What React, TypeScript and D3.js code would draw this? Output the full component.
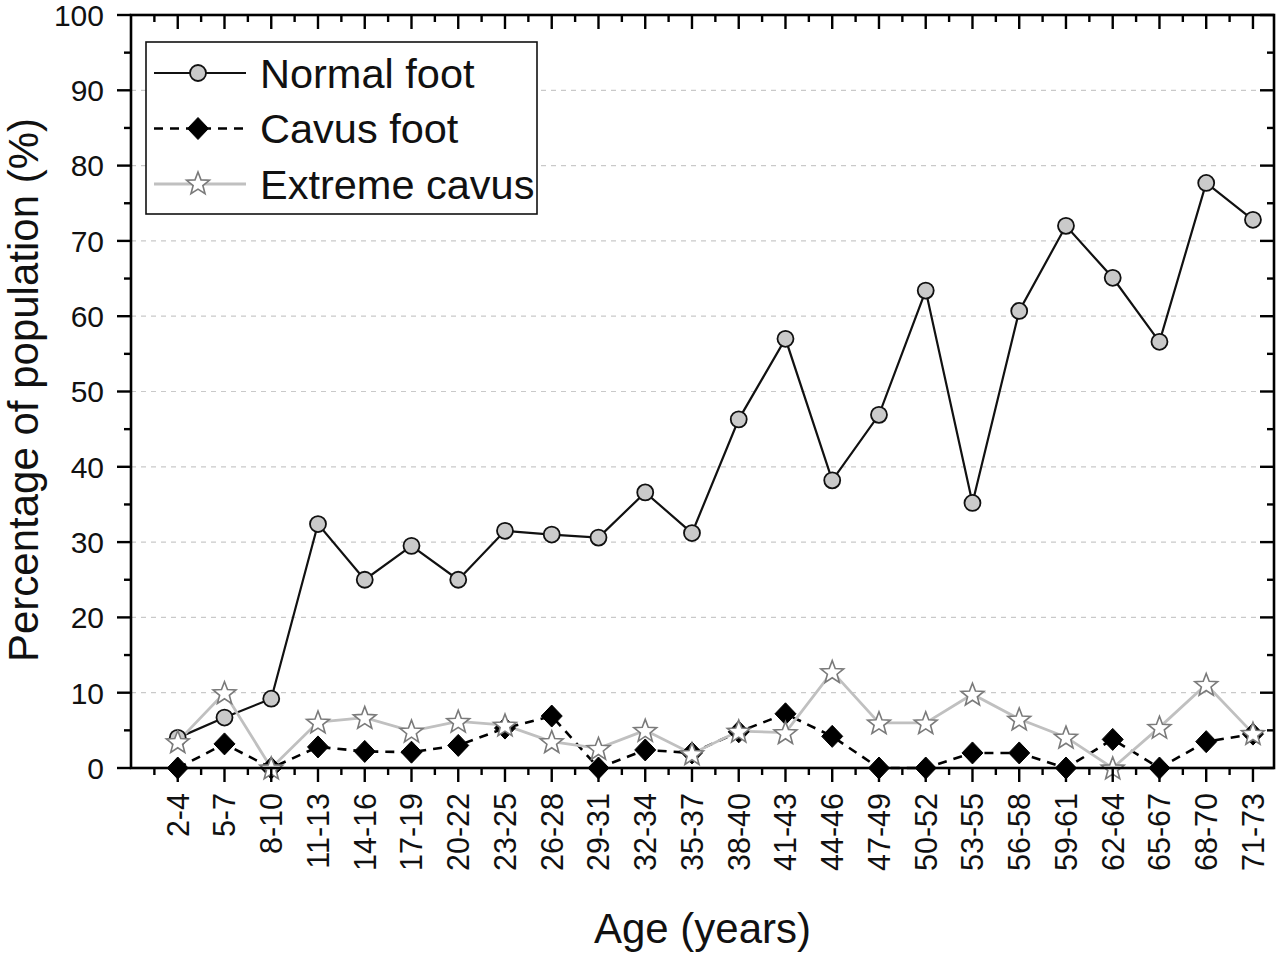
import React from "react";
import * as d3 from "d3";

const categories = [
  "2-4", "5-7", "8-10", "11-13", "14-16", "17-19", "20-22", "23-25", "26-28",
  "29-31", "32-34", "35-37", "38-40", "41-43", "44-46", "47-49", "50-52",
  "53-55", "56-58", "59-61", "62-64", "65-67", "68-70", "71-73",
];
const normalFoot = [
  4.0, 6.7, 9.2, 32.4, 25.0, 29.5, 25.0, 31.5, 31.0, 30.6, 36.6, 31.2, 46.3,
  57.0, 38.2, 46.9, 63.4, 35.2, 60.7, 72.0, 65.1, 56.6, 77.7, 72.8,
];
const cavusFoot = [
  0, 3.2, 0, 2.8, 2.2, 2.1, 3.0, 5.3, 6.9, 0, 2.4, 2.0, 4.8, 7.2, 4.2, 0, 0,
  2.0, 2.0, 0, 3.8, 0, 3.5, 4.5,
];
const extremeCavus = [
  3.5, 10.0, 0, 6.1, 6.7, 4.9, 6.2, 5.7, 3.5, 2.6, 5.0, 1.9, 4.9, 4.7, 12.8,
  6.0, 6.0, 9.8, 6.5, 4.1, 0, 5.4, 11.1, 4.6,
];
const yTicks = [0, 10, 20, 30, 40, 50, 60, 70, 80, 90, 100];
const gridValues = [10, 20, 30, 40, 50, 60, 70, 80, 90];
const legendLabels = ["Normal foot", "Cavus foot", "Extreme cavus"];
const xTitle = "Age (years)";
const yTitle = "Percentage of population (%)";

const W = 1279;
const H = 955;
const FONT = "'Liberation Sans', Arial, Helvetica, sans-serif";

const x = d3.scaleLinear().domain([-1, 23.45]).range([131, 1274]);
const y = d3.scaleLinear().domain([0, 100]).range([768, 15]);

function starPath(cx: number, cy: number, R: number, r: number) {
  const pts: string[] = [];
  for (let i = 0; i < 10; i++) {
    const rad = i % 2 === 0 ? R : r;
    const a = -Math.PI / 2 + (i * Math.PI) / 5;
    pts.push(`${cx + rad * Math.cos(a)},${cy + rad * Math.sin(a)}`);
  }
  return "M" + pts.join("L") + "Z";
}
function diamondPath(cx: number, cy: number, hw: number, hh: number) {
  return `M${cx},${cy - hh}L${cx + hw},${cy}L${cx},${cy + hh}L${cx - hw},${cy}Z`;
}

const Circle = ({ cx, cy }: { cx: number; cy: number }) => (
  <circle cx={cx} cy={cy} r={8} fill="#cacaca" stroke="#111" strokeWidth={1.8} />
);
const Diamond = ({ cx, cy }: { cx: number; cy: number }) => (
  <path d={diamondPath(cx, cy, 10.5, 11)} fill="#000" stroke="#000" strokeWidth={1} />
);
const Star = ({ cx, cy }: { cx: number; cy: number }) => (
  <path d={starPath(cx, cy + 1, 12, 5.1)} fill="#fff" stroke="#7a7a7a" strokeWidth={1.6} strokeLinejoin="miter" />
);

export default function App() {
  const idx = categories.map((_, i) => i);
  const line = d3
    .line<number>()
    .x((_, i) => x(i))
    .y((d) => y(d));

  const majorX = idx;
  const minorX = d3.range(-0.5, 23.45, 1);
  const minorY = d3.range(5, 100, 10);
  const left = x(-1);
  const right = x(23.45);
  const top = y(100);
  const bottom = y(0);
  const tl = 14;
  const ts = 7;

  const legendX = 146;
  const legendY = 42;
  const legendW = 391;
  const legendH = 172;
  const rowY = [73, 128.5, 184];
  const lx1 = 154;
  const lx2 = 246;
  const lmx = 198;

  return (
    <svg
      width={W}
      height={H}
      style={{ position: "absolute", left: 0, top: 0, background: "#fff" }}
      fontFamily={FONT}
    >
      <rect x={0} y={0} width={W} height={H} fill="#fff" />
      {/* grid */}
      {gridValues.map((v) => (
        <line
          key={"g" + v}
          x1={left}
          x2={right}
          y1={y(v)}
          y2={y(v)}
          stroke="#c9c9c9"
          strokeWidth={1.2}
          strokeDasharray="5,5"
        />
      ))}

      {/* lines */}
      <path d={line(normalFoot) || ""} fill="none" stroke="#111" strokeWidth={2.2} />
      <path
        d={line(cavusFoot) || ""}
        fill="none"
        stroke="#000"
        strokeWidth={2.6}
        strokeDasharray="9,7"
      />
      <path d={line(extremeCavus) || ""} fill="none" stroke="#c0c0c0" strokeWidth={2.8} />

      {/* markers */}
      {normalFoot.map((v, i) => (
        <Circle key={"c" + i} cx={x(i)} cy={y(v)} />
      ))}
      {cavusFoot.map((v, i) => (
        <Diamond key={"d" + i} cx={x(i)} cy={y(v)} />
      ))}
      {extremeCavus.map((v, i) => (
        <Star key={"s" + i} cx={x(i)} cy={y(v)} />
      ))}

      {/* frame */}
      <rect
        x={left}
        y={top}
        width={right - left}
        height={bottom - top}
        fill="none"
        stroke="#000"
        strokeWidth={2.6}
      />

      {/* x ticks */}
      {majorX.map((i) => (
        <g key={"xt" + i}>
          <line x1={x(i)} x2={x(i)} y1={bottom} y2={bottom + tl} stroke="#000" strokeWidth={2.4} />
          <line x1={x(i)} x2={x(i)} y1={top} y2={top + tl} stroke="#000" strokeWidth={2.4} />
        </g>
      ))}
      {minorX.map((i) => (
        <g key={"xm" + i}>
          <line x1={x(i)} x2={x(i)} y1={bottom} y2={bottom + ts} stroke="#000" strokeWidth={2.4} />
          <line x1={x(i)} x2={x(i)} y1={top} y2={top + ts} stroke="#000" strokeWidth={2.4} />
        </g>
      ))}
      {/* y ticks */}
      {yTicks.map((v) => (
        <g key={"yt" + v}>
          <line x1={left - tl} x2={left} y1={y(v)} y2={y(v)} stroke="#000" strokeWidth={2.4} />
          <line x1={right - tl} x2={right} y1={y(v)} y2={y(v)} stroke="#000" strokeWidth={2.4} />
        </g>
      ))}
      {minorY.map((v) => (
        <g key={"ym" + v}>
          <line x1={left - ts} x2={left} y1={y(v)} y2={y(v)} stroke="#000" strokeWidth={2.4} />
          <line x1={right - ts} x2={right} y1={y(v)} y2={y(v)} stroke="#000" strokeWidth={2.4} />
        </g>
      ))}

      {/* y tick labels */}
      {yTicks.map((v) => (
        <text
          key={"yl" + v}
          x={left - 27}
          y={y(v)}
          dy="0.36em"
          textAnchor="end"
          fontSize={30}
          fill="#111"
        >
          {v}
        </text>
      ))}
      {/* x tick labels */}
      {categories.map((c, i) => (
        <text
          key={"xl" + i}
          transform={`translate(${x(i)},${bottom + 25}) rotate(-90)`}
          dy="0.36em"
          textAnchor="end"
          fontSize={30.5}
          fill="#111"
        >
          {c}
        </text>
      ))}

      {/* axis titles */}
      <text x={(left + right) / 2} y={943} textAnchor="middle" fontSize={42} fill="#111">
        {xTitle}
      </text>
      <text
        transform={`translate(38,390) rotate(-90)`}
        textAnchor="middle"
        fontSize={42}
        fill="#111"
      >
        {yTitle}
      </text>

      {/* legend */}
      <rect
        x={legendX}
        y={legendY}
        width={legendW}
        height={legendH}
        fill="#fff"
        stroke="#111"
        strokeWidth={1.6}
      />
      <line x1={lx1} x2={lx2} y1={rowY[0]} y2={rowY[0]} stroke="#111" strokeWidth={2.2} />
      <Circle cx={lmx} cy={rowY[0]} />
      <line
        x1={lx1}
        x2={lx2}
        y1={rowY[1]}
        y2={rowY[1]}
        stroke="#000"
        strokeWidth={2.6}
        strokeDasharray="9,7"
      />
      <Diamond cx={lmx} cy={rowY[1]} />
      <line x1={lx1} x2={lx2} y1={rowY[2]} y2={rowY[2]} stroke="#c0c0c0" strokeWidth={2.8} />
      <Star cx={lmx} cy={rowY[2] - 1} />
      {legendLabels.map((l, i) => (
        <text key={"lg" + i} x={260} y={rowY[i]} dy="0.36em" fontSize={41.5} fill="#111">
          {l}
        </text>
      ))}
    </svg>
  );
}
